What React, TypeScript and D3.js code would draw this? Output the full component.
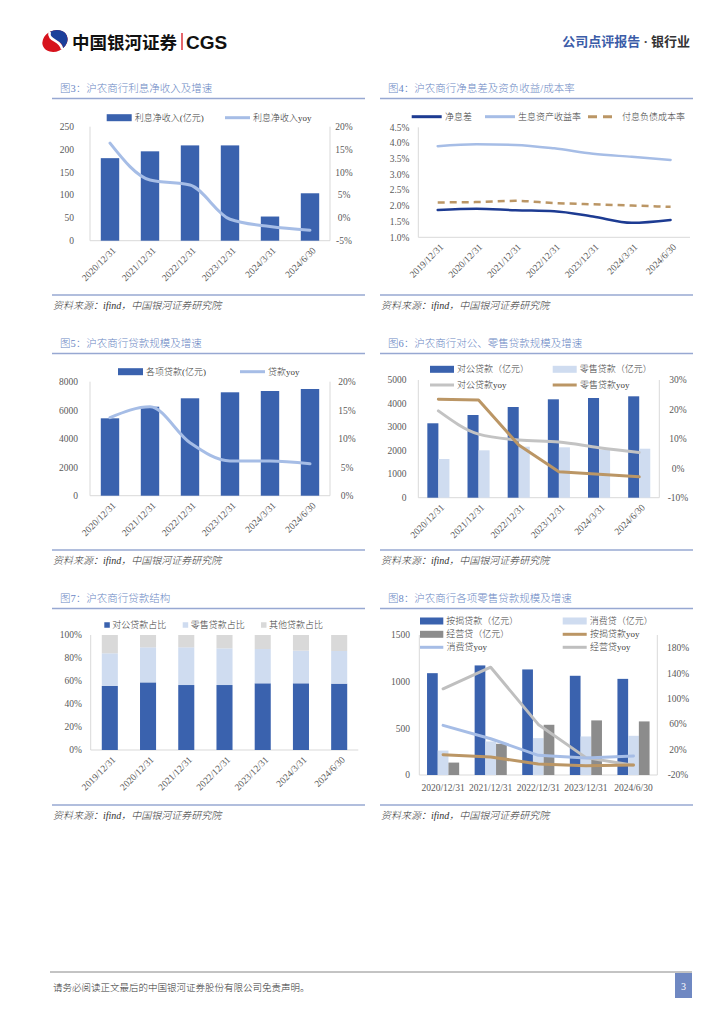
import React, { useEffect, useRef } from 'react';
import * as d3 from 'd3';

// categories
const cats6 = ['2020/12/31', '2021/12/31', '2022/12/31', '2023/12/31', '2024/3/31', '2024/6/30'];
const cats7 = ['2019/12/31', '2020/12/31', '2021/12/31', '2022/12/31', '2023/12/31', '2024/3/31', '2024/6/30'];
const cats5 = ['2020/12/31', '2021/12/31', '2022/12/31', '2023/12/31', '2024/6/30'];

// 图3
const netInterest = [181, 196, 209, 209, 53, 104];
const netInterestYoy = [16.4, 8.3, 7.2, -0.3, -1.9, -2.7];
// 图4
const nim = [1.87, 1.91, 1.86, 1.83, 1.66, 1.46, 1.55];
const assetYield = [3.9, 3.96, 3.94, 3.83, 3.66, 3.56, 3.46];
const liabCost = [2.11, 2.12, 2.16, 2.09, 2.05, 2.01, 1.97];
// 图5
const loans = [5431, 6245, 6835, 7256, 7347, 7488];
const loansYoy = [13.7, 15.6, 9.3, 6.1, 6.1, 5.6];
// 图6
const corpLoans = [3161, 3513, 3853, 4180, 4235, 4307];
const retailLoans = [1644, 2013, 2167, 2140, 2040, 2081];
const corpYoy = [19.5, 11.6, 9.6, 8.9, 7.0, 5.4];
const retailYoy = [23.5, 23.2, 7.9, -1.2, -2.0, -2.9];
// 图7
const corpShare = [55.7, 58.8, 56.5, 56.5, 58.0, 58.0, 57.7];
const retailShare = [28.4, 30.5, 32.8, 31.9, 29.8, 28.4, 28.4];
const otherShare = [15.9, 10.7, 10.7, 11.6, 12.2, 13.6, 13.9];
// 图8
const mortgage = [1091, 1174, 1131, 1063, 1030];
const consumer = [262, 359, 395, 413, 420];
const business = [133, 334, 538, 585, 574];
const mortgageYoy = [12.0, 8.2, -2.7, -5.3, -4.3];
const consumerYoy = [58.0, 37.0, 10.9, 6.7, 9.8];
const businessYoy = [115.5, 149.4, 59.5, 7.3, -4.8];

const FONT = '"Liberation Serif", "Noto Sans CJK SC", serif';
const SANS = '"Noto Sans CJK SC", "Liberation Sans", sans-serif';
const BLUE = '#3a62ae';
const PALE = '#cfdcf0';
const LINE_BLUE = '#a6bde6';
const TAN = '#bb9665';
const NAVY = '#1d3b92';
const AXIS = '#d9d9d9';
const TICK = '#595959';

type G = d3.Selection<SVGGElement, unknown, null, undefined>;

function chrome(g: G, px: number, off: number, title: string) {
  g.append('text').attr('x', px + 8).attr('y', 92 + off).text(title)
    .style('font-family', FONT).style('font-size', '10.5px').style('font-weight', 300).style('fill', '#6a87c4');
  g.append('line').attr('x1', px).attr('x2', px + 313).attr('y1', 98.5 + off).attr('y2', 98.5 + off)
    .style('stroke', '#97a8d2').style('stroke-width', 1.5);
  g.append('line').attr('x1', px).attr('x2', px + 313).attr('y1', 295 + off).attr('y2', 295 + off)
    .style('stroke', '#97a8d2').style('stroke-width', 1.5);
  g.append('text').attr('x', px + 1).attr('y', 309 + off).text('资料来源：ifind，中国银河证券研究院')
    .style('font-family', FONT).style('font-size', '10px').style('font-weight', 300)
    .style('font-style', 'italic').style('fill', '#333');
}

function frame(g: G, l: number, r: number, t: number, b: number, rightLine: boolean) {
  g.append('line').attr('x1', l).attr('x2', l).attr('y1', t).attr('y2', b).style('stroke', AXIS);
  g.append('line').attr('x1', l).attr('x2', r).attr('y1', b).attr('y2', b).style('stroke', AXIS);
  if (rightLine) g.append('line').attr('x1', r).attr('x2', r).attr('y1', t).attr('y2', b).style('stroke', AXIS);
}

function ticks(g: G, y: d3.ScaleLinear<number, number>, vals: number[], fmt: (d: number) => string, x: number, anchor: string) {
  vals.forEach(v => {
    g.append('text').attr('x', x).attr('y', y(v)).attr('dy', '0.35em').attr('text-anchor', anchor)
      .text(fmt(v)).style('font-family', FONT).style('font-size', '9.5px').style('fill', TICK);
  });
}

function xRotated(g: G, x: d3.ScaleBand<string>, b: number) {
  x.domain().forEach(c => {
    const cx = x(c)! + x.bandwidth() / 2;
    g.append('text').attr('transform', `translate(${cx + 4},${b + 8}) rotate(-45)`)
      .attr('text-anchor', 'end').attr('dy', '0.35em').text(c)
      .style('font-family', FONT).style('font-size', '9.5px').style('fill', TICK);
  });
}

function xFlat(g: G, x: d3.ScaleBand<string>, b: number) {
  x.domain().forEach(c => {
    g.append('text').attr('x', x(c)! + x.bandwidth() / 2).attr('y', b + 13).attr('dy', '0.35em')
      .attr('text-anchor', 'middle').text(c)
      .style('font-family', FONT).style('font-size', '9.5px').style('fill', TICK);
  });
}

function bars(g: G, x: d3.ScaleBand<string>, y: d3.ScaleLinear<number, number>, vals: number[], color: string, w: number, shift: number) {
  g.selectAll(null).data(vals).enter().append('rect')
    .attr('x', (d, i) => x(x.domain()[i])! + x.bandwidth() / 2 + shift)
    .attr('y', d => y(d))
    .attr('width', w)
    .attr('height', d => y(0) - y(d))
    .style('fill', color);
}

function series(g: G, x: d3.ScaleBand<string>, y: d3.ScaleLinear<number, number>, vals: number[], color: string, width: number, curve: d3.CurveFactory, dash?: string) {
  const line = d3.line<number>()
    .x((d, i) => x(x.domain()[i])! + x.bandwidth() / 2)
    .y(d => y(d))
    .curve(curve);
  const p = g.append('path').datum(vals).attr('d', line)
    .style('fill', 'none').style('stroke', color).style('stroke-width', width)
    .style('stroke-linejoin', 'round').style('stroke-linecap', dash ? 'butt' : 'round');
  if (dash) p.style('stroke-dasharray', dash);
}

function legendText(g: G, x: number, y: number, label: string) {
  g.append('text').attr('x', x).attr('y', y).attr('dy', '0.35em').text(label)
    .style('font-family', FONT).style('font-size', '9px').style('font-weight', 300).style('fill', '#404040');
}
function legendRect(g: G, x: number, y: number, w: number, h: number, color: string, label: string, gap = 3) {
  g.append('rect').attr('x', x).attr('y', y - h / 2).attr('width', w).attr('height', h).style('fill', color);
  legendText(g, x + w + gap, y, label);
}
function legendLine(g: G, x: number, y: number, color: string, label: string, dash?: string) {
  const l = g.append('line').attr('x1', x).attr('x2', x + 25).attr('y1', y).attr('y2', y)
    .style('stroke', color).style('stroke-width', 3);
  if (dash) l.style('stroke-dasharray', dash);
  legendText(g, x + 28, y, label);
}

const pct = (d: number) => `${d}%`;

const App: React.FC = () => {
  const ref = useRef<SVGSVGElement>(null);

  useEffect(() => {
    if (!ref.current) return;
    const svg = d3.select(ref.current);
    svg.selectAll('*').remove();
    const g = svg.append('g') as G;

    // header
    const logo = g.append('g').attr('transform', 'translate(55,41) rotate(-25)');
    logo.append('ellipse').attr('rx', 13).attr('ry', 10.5).style('fill', '#d7131d');
    logo.append('path').attr('d', 'M-1,-10.5 A13,10.5 0 0 1 13,0 A13,10.5 0 0 1 3,10.3 C10,3 -5,-1 -1,-10.5 Z').style('fill', '#1d3f9a');
    logo.append('path').attr('d', 'M-1,-10.5 C-7,-3 6,1 3,10.5').style('fill', 'none').style('stroke', '#fff').style('stroke-width', 2.6);
    g.append('text').attr('x', 72).attr('y', 48.5).text('中国银河证券')
      .style('font-family', SANS).style('font-weight', 'bold').style('font-size', '17.5px').style('fill', '#111');
    g.append('line').attr('x1', 182).attr('x2', 182).attr('y1', 33).attr('y2', 50).style('stroke', '#d7131d').style('stroke-width', 1.3);
    g.append('text').attr('x', 186).attr('y', 48.5).text('CGS')
      .style('font-family', '"Liberation Sans", Arial, sans-serif').style('font-weight', 'bold').style('font-size', '19px').style('fill', '#111');
    const hdr = g.append('text').attr('x', 690).attr('y', 45.5).attr('text-anchor', 'end')
      .style('font-family', FONT).style('font-size', '13px').style('font-weight', 'bold');
    hdr.append('tspan').text('公司点评报告').style('fill', '#3b5ca8');
    hdr.append('tspan').text(' · ').style('fill', '#444');
    hdr.append('tspan').text('银行业').style('fill', '#333');

    // footer
    g.append('line').attr('x1', 50).attr('x2', 692).attr('y1', 972).attr('y2', 972).style('stroke', '#888').style('stroke-width', 1);
    g.append('text').attr('x', 53).attr('y', 990.5).text('请务必阅读正文最后的中国银河证券股份有限公司免责声明。')
      .style('font-family', FONT).style('font-size', '9.5px').style('font-weight', 300).style('fill', '#333');
    g.append('rect').attr('x', 675).attr('y', 973).attr('width', 17).attr('height', 25).style('fill', '#6f88c2');
    g.append('text').attr('x', 683.5).attr('y', 989.5).attr('text-anchor', 'middle').text('3')
      .style('font-family', FONT).style('font-size', '10px').style('fill', '#fff');

    // 图3
    {
      const off = 0;
      chrome(g, 52, off, '图3：沪农商行利息净收入及增速');
      const L = 90, R = 330, T = 126.7, B = 240.7;
      const x = d3.scaleBand().domain(cats6).range([L, R]);
      const y = d3.scaleLinear().domain([0, 250]).range([B, T]);
      const y2 = d3.scaleLinear().domain([-5, 20]).range([B, T]);
      frame(g, L, R, T, B, true);
      ticks(g, y, d3.range(0, 251, 50), d => `${d}`, 74, 'end');
      ticks(g, y2, d3.range(-5, 21, 5), pct, 344, 'middle');
      const w = x.bandwidth() * 0.46;
      bars(g, x, y, netInterest, BLUE, w, -w / 2);
      series(g, x, y2, netInterestYoy, LINE_BLUE, 3, d3.curveMonotoneX);
      xRotated(g, x, B);
      legendRect(g, 106.7, 117.7, 25, 7, BLUE, '利息净收入(亿元)');
      legendLine(g, 225, 117.7, LINE_BLUE, '利息净收入yoy');
    }

    // 图4
    {
      const off = 0;
      chrome(g, 380, off, '图4：沪农商行净息差及资负收益/成本率');
      const L = 418.3, R = 690, T = 127.3, B = 237.3;
      const x = d3.scaleBand().domain(cats7).range([L, R]);
      const y = d3.scaleLinear().domain([1, 4.5]).range([B, T]);
      frame(g, L, R, T, B, false);
      ticks(g, y, d3.range(1, 4.51, 0.5), d => `${d.toFixed(1)}%`, 409.5, 'end');
      series(g, x, y, assetYield, LINE_BLUE, 2.5, d3.curveMonotoneX);
      series(g, x, y, liabCost, TAN, 2.5, d3.curveMonotoneX, '7,5');
      series(g, x, y, nim, NAVY, 2.5, d3.curveMonotoneX);
      xRotated(g, x, B);
      g.append('line').attr('x1', 411.7).attr('x2', 441.7).attr('y1', 116.7).attr('y2', 116.7).style('stroke', NAVY).style('stroke-width', 3);
      legendText(g, 445, 116.7, '净息差');
      g.append('line').attr('x1', 485).attr('x2', 515).attr('y1', 116.7).attr('y2', 116.7).style('stroke', LINE_BLUE).style('stroke-width', 3);
      legendText(g, 518, 116.7, '生息资产收益率');
      g.append('line').attr('x1', 588).attr('x2', 618).attr('y1', 116.7).attr('y2', 116.7).style('stroke', TAN).style('stroke-width', 3).style('stroke-dasharray', '9,6');
      legendText(g, 622, 116.7, '付息负债成本率');
    }

    // 图5
    {
      const off = 255;
      chrome(g, 52, off, '图5：沪农商行贷款规模及增速');
      const L = 90, R = 330, T = 381.7, B = 495.7;
      const x = d3.scaleBand().domain(cats6).range([L, R]);
      const y = d3.scaleLinear().domain([0, 8000]).range([B, T]);
      const y2 = d3.scaleLinear().domain([0, 20]).range([B, T]);
      frame(g, L, R, T, B, true);
      ticks(g, y, d3.range(0, 8001, 2000), d => `${d}`, 78, 'end');
      ticks(g, y2, d3.range(0, 21, 5), pct, 347, 'middle');
      const w = x.bandwidth() * 0.46;
      bars(g, x, y, loans, BLUE, w, -w / 2);
      series(g, x, y2, loansYoy, LINE_BLUE, 3, d3.curveMonotoneX);
      xRotated(g, x, B);
      legendRect(g, 118, 371.7, 25, 7, BLUE, '各项贷款(亿元)');
      legendLine(g, 240, 371.7, LINE_BLUE, '贷款yoy');
    }

    // 图6
    {
      const off = 255;
      chrome(g, 380, off, '图6：沪农商行对公、零售贷款规模及增速');
      const L = 418.3, R = 659.3, T = 380, B = 497.7;
      const x = d3.scaleBand().domain(cats6).range([L, R]);
      const y = d3.scaleLinear().domain([0, 5000]).range([B, T]);
      const y2 = d3.scaleLinear().domain([-10, 30]).range([B, T]);
      frame(g, L, R, T, B, true);
      ticks(g, y, d3.range(0, 5001, 1000), d => `${d}`, 406.5, 'end');
      ticks(g, y2, d3.range(-10, 31, 10), pct, 678, 'middle');
      const w = x.bandwidth() * 0.275;
      bars(g, x, y, corpLoans, BLUE, w, -w);
      bars(g, x, y, retailLoans, PALE, w, 0);
      series(g, x, y2, corpYoy, '#c3c3c3', 3, d3.curveMonotoneX);
      series(g, x, y2, retailYoy, TAN, 3, d3.curveLinear);
      xRotated(g, x, B);
      legendRect(g, 430, 369.3, 24, 7, BLUE, '对公贷款（亿元）');
      legendRect(g, 552.7, 369.3, 24, 7, PALE, '零售贷款（亿元）');
      g.append('line').attr('x1', 430).attr('x2', 454).attr('y1', 385).attr('y2', 385).style('stroke', '#c3c3c3').style('stroke-width', 3);
      legendText(g, 457, 385, '对公贷款yoy');
      g.append('line').attr('x1', 552.7).attr('x2', 576.7).attr('y1', 385).attr('y2', 385).style('stroke', TAN).style('stroke-width', 3);
      legendText(g, 580, 385, '零售贷款yoy');
    }

    // 图7
    {
      const off = 510;
      chrome(g, 52, off, '图7：沪农商行贷款结构');
      const L = 90.7, R = 358.3, T = 635, B = 750;
      const x = d3.scaleBand().domain(cats7).range([L, R]);
      const y = d3.scaleLinear().domain([0, 100]).range([B, T]);
      frame(g, L, R, T, B, false);
      ticks(g, y, d3.range(0, 101, 20), pct, 82, 'end');
      const rows = cats7.map((c, i) => ({ c, corp: corpShare[i], retail: retailShare[i], other: otherShare[i] }));
      const stack = d3.stack<any>().keys(['corp', 'retail', 'other'])(rows);
      const colors = [BLUE, PALE, '#d9d9d9'];
      const w = x.bandwidth() * 0.42;
      stack.forEach((layer, k) => {
        g.selectAll(null).data(layer).enter().append('rect')
          .attr('x', d => x(d.data.c)! + x.bandwidth() / 2 - w / 2)
          .attr('y', d => y(d[1]))
          .attr('width', w)
          .attr('height', d => y(d[0]) - y(d[1]))
          .style('fill', colors[k]);
      });
      xRotated(g, x, B);
      legendRect(g, 104.3, 625, 5.5, 5.5, BLUE, '对公贷款占比', 2.5);
      legendRect(g, 182.7, 625, 5.5, 5.5, PALE, '零售贷款占比', 2.5);
      legendRect(g, 261, 625, 5.5, 5.5, '#d9d9d9', '其他贷款占比', 2.5);
    }

    // 图8
    {
      const off = 510;
      chrome(g, 380, off, '图8：沪农商行各项零售贷款规模及增速');
      const L = 419.3, R = 657.3, T = 635, B = 775;
      const x = d3.scaleBand().domain(cats5).range([L, R]);
      const y = d3.scaleLinear().domain([0, 1500]).range([B, T]);
      const y2 = d3.scaleLinear().domain([-20, 200]).range([B, T]);
      frame(g, L, R, T, B, true);
      ticks(g, y, d3.range(0, 1501, 500), d => `${d}`, 410, 'end');
      ticks(g, y2, d3.range(-20, 181, 40), pct, 678, 'middle');
      const w = x.bandwidth() * 0.225;
      bars(g, x, y, mortgage, BLUE, w, -1.5 * w);
      bars(g, x, y, consumer, PALE, w, -0.5 * w);
      bars(g, x, y, business, '#8c8c8c', w, 0.5 * w);
      series(g, x, y2, businessYoy, '#bfbfbf', 3, d3.curveLinear);
      series(g, x, y2, consumerYoy, LINE_BLUE, 3, d3.curveLinear);
      series(g, x, y2, mortgageYoy, TAN, 3, d3.curveLinear);
      xFlat(g, x, B);
      legendRect(g, 420, 621, 23.3, 7, BLUE, '按揭贷款（亿元）');
      legendRect(g, 562.7, 621, 24, 7, PALE, '消费贷（亿元）');
      legendRect(g, 420, 634.3, 23.3, 7, '#8c8c8c', '经营贷（亿元）');
      g.append('line').attr('x1', 562.7).attr('x2', 586.7).attr('y1', 634.3).attr('y2', 634.3).style('stroke', TAN).style('stroke-width', 3);
      legendText(g, 590, 634.3, '按揭贷款yoy');
      g.append('line').attr('x1', 420).attr('x2', 443.3).attr('y1', 647.3).attr('y2', 647.3).style('stroke', LINE_BLUE).style('stroke-width', 3);
      legendText(g, 446.5, 647.3, '消费贷yoy');
      g.append('line').attr('x1', 562.7).attr('x2', 586.7).attr('y1', 647.3).attr('y2', 647.3).style('stroke', '#bfbfbf').style('stroke-width', 3);
      legendText(g, 590, 647.3, '经营贷yoy');
    }
  }, []);

  return (
    <svg
      ref={ref}
      width={724}
      height={1024}
      style={{ position: 'absolute', left: 0, top: 0, background: '#fff' }}
    />
  );
};

export default App;
